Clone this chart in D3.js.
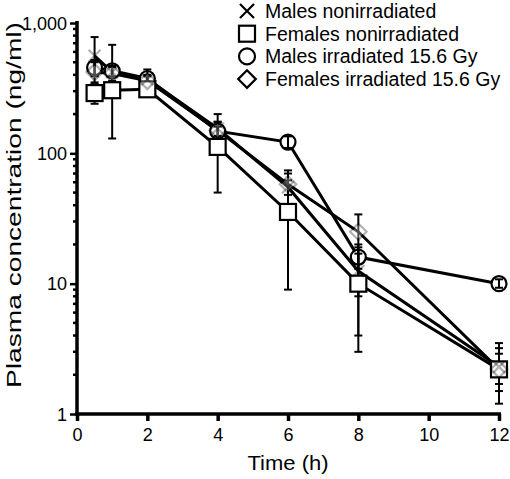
<!DOCTYPE html>
<html><head><meta charset="utf-8">
<script src="https://cdn.jsdelivr.net/npm/d3@7"></script>
<style>body{margin:0;background:#fff}text{font-family:"Liberation Sans",Arial,sans-serif}</style>
</head><body><svg id="c" width="510" height="479"></svg>
<script>
const times = [0.5, 1, 2, 4, 6, 8, 12];
const seriesNames = ["Males nonirradiated", "Females nonirradiated", "Males irradiated 15.6 Gy", "Females irradiated 15.6 Gy"];
const malesNonIrr = [560, 420, 370, 155, 55, 12.5, 2.3];
const malesNonIrrHi = [780, 680, 440, 200, 74, 20, 3.5];
const malesNonIrrLo = [400, 300, 320, 120, 40, 8, 1.5];
const femalesNonIrr = [290, 305, 310, 112, 35.5, 10, 2.2];
const femalesNonIrrHi = [340, 470, 345, 174, 62, 17, 2.9];
const femalesNonIrrLo = [240, 130, 275, 50, 9, 3, 1.2];
const malesIrr = [455, 430, 375, 148, 122, 16, 10];
const malesIrrHi = [520, 470, 400, 160, 135, 19, 10.8];
const malesIrrLo = [390, 390, 350, 136, 110, 13, 9.3];
const femalesIrr = [420, 410, 360, 150, 58, 25, 2.2];
const femalesIrrHi = [500, 460, 390, 175, 70, 34, 3.2];
const femalesIrrLo = [350, 360, 330, 130, 48, 4, 1.7];
const xTicks = [0, 2, 4, 6, 8, 10, 12];
const yTicks = [1, 10, 100, 1000];

const svg = d3.select("#c");
const x = d3.scaleLinear().domain([0, 12]).range([77, 499]);
const y = d3.scaleLog().domain([1, 1000]).range([414, 23]);

const series = [
  {name: seriesNames[0], v: malesNonIrr, hi: malesNonIrrHi, lo: malesNonIrrLo, sym: "x"},
  {name: seriesNames[1], v: femalesNonIrr, hi: femalesNonIrrHi, lo: femalesNonIrrLo, sym: "square"},
  {name: seriesNames[2], v: malesIrr, hi: malesIrrHi, lo: malesIrrLo, sym: "circle"},
  {name: seriesNames[3], v: femalesIrr, hi: femalesIrrHi, lo: femalesIrrLo, sym: "diamond"}
];

function drawSym(g, sym, cx, cy, s) {
  if (sym === "x") {
    g.append("path").attr("d", `M${cx-s*0.5},${cy-s*0.5}L${cx+s*0.5},${cy+s*0.5}M${cx-s*0.5},${cy+s*0.5}L${cx+s*0.5},${cy-s*0.5}`)
      .attr("stroke", "#000").attr("stroke-width", 2.2).attr("fill", "none");
  } else if (sym === "square") {
    g.append("rect").attr("x", cx-s/2).attr("y", cy-s/2).attr("width", s).attr("height", s)
      .attr("fill", "#fff").attr("stroke", "#000").attr("stroke-width", 2.2);
  } else if (sym === "circle") {
    g.append("circle").attr("cx", cx).attr("cy", cy).attr("r", s/2)
      .attr("fill", "#fff").attr("stroke", "#000").attr("stroke-width", 2.2);
  } else {
    const h = s*0.55;
    g.append("path").attr("d", `M${cx},${cy-h}L${cx+h},${cy}L${cx},${cy+h}L${cx-h},${cy}Z`)
      .attr("fill", "#fff").attr("stroke", "#000").attr("stroke-width", 2.2);
  }
}

const plot = svg.append("g");
const symSize = {x: 12, square: 16, circle: 15, diamond: 15};
function drawMarkers(k, op) {
  const s = series[k];
  const g = plot.append("g").attr("opacity", op);
  times.forEach((t, i) => drawSym(g, s.sym, x(t), y(s.v[i]), symSize[s.sym]));
}
// lines
const line = d3.line().x((d, i) => x(times[i])).y(d => y(d));
series.forEach(s => {
  plot.append("path").datum(s.v).attr("d", line).attr("fill", "none").attr("stroke", "#000").attr("stroke-width", 3);
});
drawMarkers(2, 1);
// error bars
series.forEach(s => {
  times.forEach((t, i) => {
    const g = plot.append("g").attr("stroke", "#000").attr("stroke-width", 2);
    g.append("line").attr("x1", x(t)).attr("x2", x(t)).attr("y1", y(s.lo[i])).attr("y2", y(s.hi[i]));
    g.append("line").attr("x1", x(t)-4).attr("x2", x(t)+4).attr("y1", y(s.lo[i])).attr("y2", y(s.lo[i]));
    g.append("line").attr("x1", x(t)-4).attr("x2", x(t)+4).attr("y1", y(s.hi[i])).attr("y2", y(s.hi[i]));
  });
});
drawMarkers(1, 1);
drawMarkers(3, 0.3);
drawMarkers(0, 0.3);

// axes
const yAxis = d3.axisLeft(y).tickValues(yTicks).tickFormat(d3.format(",")).tickSize(7).tickPadding(3);
const ya = svg.append("g").attr("transform", "translate(77,0)").call(yAxis);
ya.select(".domain").attr("stroke-width", 3.5).attr("d", "M0,21V416");
ya.selectAll(".tick line").attr("stroke-width", 2.5);
ya.selectAll("text").attr("font-size", 18).attr("fill", "#000").attr("dy", "0.35em");
const minor = [];
for (let d = 1; d < 1000; d *= 10) for (let m = 2; m <= 9; m++) minor.push(d*m);
ya.selectAll(".minor").data(minor).enter().append("line").attr("class", "minor")
  .attr("x1", -4).attr("x2", 0).attr("y1", d => y(d)).attr("y2", d => y(d))
  .attr("stroke", "#000").attr("stroke-width", 2.5);

const xAxis = d3.axisBottom(x).tickValues(xTicks).tickSize(7).tickPadding(7);
const xa = svg.append("g").attr("transform", "translate(0,414)").call(xAxis);
xa.select(".domain").attr("stroke-width", 3.5).attr("d", "M75,0H501");
xa.selectAll(".tick line").attr("stroke-width", 3.5);
xa.selectAll("text").attr("font-size", 18).attr("fill", "#000");

svg.append("text").attr("x", 288).attr("y", 470).attr("text-anchor", "middle").attr("font-size", 20)
  .attr("textLength", 81).attr("lengthAdjust", "spacingAndGlyphs").text("Time (h)");
svg.append("text").attr("transform", "translate(21,205) rotate(-90)").attr("text-anchor", "middle").attr("font-size", 19.5)
  .attr("textLength", 366).attr("lengthAdjust", "spacingAndGlyphs").text("Plasma concentration (ng/ml)");

// legend
const leg = svg.append("g");
series.forEach((s, i) => {
  const cy = 11 + i * 22.7;
  drawSym(leg, s.sym, 247, cy, s.sym === "x" ? 14 : 16);
  leg.append("text").attr("x", 265).attr("y", cy).attr("dy", "0.35em").attr("font-size", 19.5).text(s.name);
});
</script></body></html>
